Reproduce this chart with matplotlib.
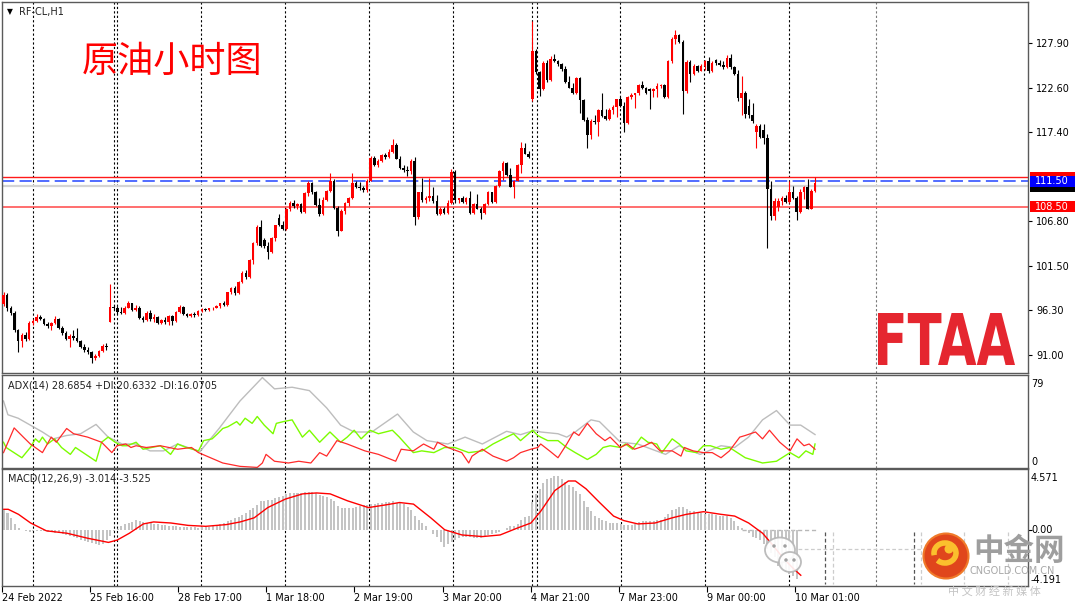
import numpy as np
import matplotlib
matplotlib.use('Agg')
import matplotlib.pyplot as plt
from matplotlib.patches import Rectangle, Ellipse, PathPatch, Arc
from matplotlib.lines import Line2D
from matplotlib.textpath import TextPath
from matplotlib.font_manager import FontProperties
from matplotlib.transforms import Affine2D, IdentityTransform, blended_transform_factory

plt.rcParams['font.family'] = ['DejaVu Sans', 'Noto Sans CJK SC']
plt.rcParams['font.size'] = 7

# ---------------- data (RF-CL, H1) ----------------
opens = [
    97.0, 98.1, 96.5, 96.0, 93.9, 92.7, 93.4, 92.9, 94.8, 95.0,
    95.5, 95.3, 94.7, 94.4, 94.8, 95.3, 94.2, 93.6, 92.9, 93.3,
    93.0, 92.6, 92.0, 91.6, 91.3, 90.6, 90.9, 91.5, 92.1, 94.9,
    96.7, 96.6, 96.1, 96.0, 96.6, 97.1, 96.3, 96.6, 95.4, 95.1,
    96.0, 95.2, 95.5, 94.8, 95.1, 94.9, 95.6, 95.0, 96.1, 96.7,
    95.8, 95.6, 95.9, 95.7, 96.2, 96.4, 96.3, 96.5, 96.6, 96.8,
    97.1, 96.9, 98.4, 98.9, 98.3, 99.6, 100.7, 100.2, 102.2, 104.2,
    106.1, 104.6, 103.9, 103.2, 104.8, 107.2, 106.3, 105.9, 108.3, 109.0,
    108.6, 108.8, 107.9, 110.1, 111.3, 110.2, 108.7, 107.6, 109.3, 110.4,
    111.6, 108.4, 105.7, 108.0, 109.0, 109.5, 111.3, 110.9, 110.7, 110.5,
    111.6, 114.3, 113.5, 113.9, 114.6, 114.4, 115.0, 115.8, 114.2, 113.1,
    112.8, 112.7, 113.9, 107.3, 110.2, 109.3, 109.6, 109.8, 109.2, 107.6,
    108.3, 107.8, 108.9, 112.6, 109.3, 109.5, 109.1, 109.5, 107.8, 108.8,
    108.3, 107.8, 108.8, 110.2, 109.1, 111.0, 112.7, 113.7, 112.3, 110.9,
    111.6, 113.4, 115.5, 114.8, 121.2, 126.9, 124.4, 122.4, 125.5, 123.5,
    126.0, 125.7, 125.4, 124.8, 123.2, 122.6, 121.9, 123.7, 121.1, 118.8,
    117.0, 118.7, 118.5, 119.9, 119.2, 118.9, 119.9, 120.3, 121.2, 120.4,
    118.4, 121.5, 121.7, 121.9, 122.9, 122.5, 122.4, 122.2, 122.4, 122.8,
    122.9, 121.5, 125.7, 128.3, 128.8, 128.0, 122.2, 125.6, 124.2, 125.2,
    124.6, 125.2, 125.7, 124.5, 125.8, 125.5, 125.3, 125.0, 126.1, 125.0,
    124.2, 121.4, 122.0, 120.4, 119.3, 117.4, 118.1, 117.6, 116.6, 110.6,
    107.4, 108.5, 109.2, 109.5, 109.1, 110.3, 109.6, 107.9, 110.2, 110.8,
    108.3, 110.4,
]
highs = [
    98.4, 98.3, 96.8, 96.2, 94.1, 93.6, 93.7, 95.0, 95.2, 95.8,
    95.7, 95.4, 94.9, 94.9, 95.6, 95.4, 94.4, 93.8, 93.5, 93.9,
    94.2, 92.8, 92.3, 91.9, 91.5, 91.1, 91.6, 92.3, 92.4, 99.4,
    96.9, 96.8, 96.7, 96.8, 97.4, 97.2, 96.9, 96.8, 95.6, 96.2,
    96.3, 95.8, 95.6, 95.3, 95.5, 95.7, 95.7, 96.2, 96.9, 96.8,
    96.0, 96.0, 96.1, 96.3, 96.5, 96.5, 96.6, 96.7, 96.9, 97.2,
    97.4, 98.5, 99.0, 99.1, 99.7, 100.9, 101.1, 102.3, 104.4, 106.3,
    107.0, 104.8, 104.4, 104.9, 106.4, 107.6, 106.8, 108.4, 109.2, 109.3,
    108.9, 108.9, 110.2, 111.6, 111.4, 110.4, 109.6, 109.7, 110.5, 112.5,
    111.8, 108.6, 108.2, 109.1, 109.7, 112.5, 111.6, 111.4, 111.0, 111.8,
    114.5, 114.5, 114.1, 114.8, 114.9, 115.3, 116.5, 116.0, 114.5, 113.4,
    113.3, 114.1, 114.4, 110.3, 111.9, 109.8, 111.9, 110.8, 109.9, 108.5,
    108.5, 109.3, 113.0, 112.8, 109.6, 109.8, 109.7, 110.4, 109.0, 110.0,
    108.5, 108.9, 110.4, 110.3, 111.1, 112.8, 113.9, 113.8, 113.1, 111.7,
    113.6, 116.2, 116.0, 115.1, 130.5, 127.1, 124.6, 125.7, 125.8, 126.3,
    126.6, 125.9, 125.5, 125.1, 124.0, 123.1, 123.9, 123.9, 121.3, 119.1,
    118.9, 119.3, 120.1, 121.9, 120.1, 120.2, 120.5, 121.3, 121.5, 120.9,
    121.6, 121.9, 122.0, 123.0, 123.4, 122.7, 122.5, 122.6, 123.1, 123.0,
    123.0, 125.9, 128.6, 129.4, 128.9, 128.2, 125.9, 125.9, 125.4, 125.3,
    125.4, 125.8, 126.2, 125.7, 126.0, 125.8, 125.7, 126.4, 126.6, 125.2,
    124.7, 124.0, 122.2, 121.3, 120.8, 118.3, 118.3, 118.3, 117.1, 111.6,
    109.6, 109.6, 109.8, 109.9, 111.6, 111.0, 109.8, 110.6, 111.0, 111.8,
    110.6, 112.0,
]
lows = [
    96.8, 96.2, 95.7, 93.7, 91.3, 92.0, 92.6, 92.8, 94.5, 94.9,
    95.1, 94.5, 94.2, 94.0, 94.7, 94.1, 93.4, 92.8, 92.0, 92.8,
    92.5, 91.8, 91.4, 91.1, 90.0, 90.4, 90.8, 91.4, 91.6, 94.9,
    96.3, 95.8, 95.9, 95.9, 96.5, 96.2, 96.2, 95.3, 94.9, 95.0,
    95.0, 94.9, 94.7, 94.7, 94.7, 94.6, 94.5, 94.9, 96.0, 95.7,
    95.5, 95.5, 95.5, 95.6, 96.1, 96.2, 96.2, 96.3, 96.5, 96.6,
    96.8, 96.8, 98.2, 98.1, 98.2, 99.5, 100.0, 100.1, 101.7, 104.0,
    103.8, 103.6, 102.4, 103.1, 104.5, 106.2, 105.8, 105.8, 108.0, 108.4,
    108.2, 107.8, 107.8, 109.8, 110.0, 108.6, 107.4, 107.5, 109.2, 110.3,
    108.3, 105.1, 105.6, 107.6, 108.6, 109.4, 110.7, 110.5, 110.3, 110.3,
    111.5, 113.3, 113.2, 113.8, 114.2, 114.3, 114.9, 114.1, 113.0, 112.6,
    112.2, 112.4, 106.3, 107.1, 109.1, 109.0, 109.2, 109.0, 107.5, 107.5,
    107.7, 107.7, 108.8, 109.0, 109.0, 109.0, 108.8, 107.7, 107.7, 108.2,
    107.1, 107.7, 108.7, 109.0, 109.0, 110.9, 111.7, 112.2, 110.8, 109.6,
    111.5, 112.5, 114.7, 114.3, 121.0, 124.2, 121.6, 122.3, 123.2, 123.4,
    125.6, 125.2, 124.6, 123.1, 122.5, 121.8, 121.8, 119.6, 118.6, 115.5,
    116.5, 118.3, 116.9, 119.1, 118.8, 118.8, 119.5, 119.1, 120.3, 117.4,
    118.3, 121.2, 120.2, 121.7, 122.4, 121.8, 120.1, 121.5, 121.5, 122.6,
    121.4, 121.4, 125.5, 127.8, 127.9, 119.5, 121.9, 123.2, 124.1, 124.4,
    124.5, 124.7, 124.3, 124.4, 125.3, 125.1, 124.8, 124.9, 124.8, 124.1,
    121.0, 119.3, 119.0, 119.0, 118.4, 115.5, 116.6, 115.9, 103.6, 106.9,
    107.0, 108.0, 108.7, 108.9, 109.0, 109.4, 106.9, 107.8, 109.4, 108.2,
    108.2, 110.3,
]
closes = [
    98.1, 96.5, 96.0, 93.9, 92.7, 93.4, 92.9, 94.8, 95.0, 95.5,
    95.3, 94.7, 94.4, 94.8, 95.3, 94.2, 93.6, 92.9, 93.3, 93.0,
    92.6, 92.0, 91.6, 91.3, 90.6, 90.9, 91.5, 92.1, 91.9, 96.7,
    96.6, 96.1, 96.0, 96.6, 97.1, 96.3, 96.6, 95.4, 95.1, 96.0,
    95.2, 95.5, 94.8, 95.1, 94.9, 95.6, 95.0, 96.1, 96.7, 95.8,
    95.6, 95.9, 95.7, 96.2, 96.4, 96.3, 96.5, 96.6, 96.8, 97.1,
    96.9, 98.4, 98.9, 98.3, 99.6, 100.7, 100.2, 102.2, 104.2, 106.1,
    103.9, 103.9, 103.2, 104.8, 106.3, 106.3, 105.9, 108.3, 109.0, 108.6,
    108.8, 107.9, 110.1, 111.3, 110.2, 108.7, 107.6, 109.3, 110.4, 111.6,
    108.4, 105.7, 108.0, 109.0, 109.5, 111.3, 110.9, 110.7, 110.5, 111.6,
    114.3, 113.5, 113.9, 114.6, 114.4, 115.0, 115.8, 114.2, 113.1, 112.8,
    112.7, 113.9, 107.3, 110.2, 109.3, 109.6, 109.8, 109.2, 107.6, 108.3,
    107.8, 108.9, 112.6, 109.3, 109.5, 109.1, 109.5, 107.8, 108.8, 108.3,
    107.8, 108.8, 110.2, 109.1, 111.0, 112.7, 113.7, 112.3, 110.9, 111.6,
    113.4, 115.5, 114.8, 114.4, 126.9, 124.4, 122.4, 125.5, 123.5, 126.0,
    125.7, 125.4, 124.8, 123.2, 122.6, 121.9, 123.7, 121.1, 118.8, 117.0,
    118.7, 118.5, 119.9, 119.2, 118.9, 119.9, 120.3, 121.2, 120.4, 118.4,
    121.5, 121.7, 121.9, 122.9, 122.5, 121.9, 122.2, 122.4, 122.8, 122.9,
    121.5, 125.7, 128.3, 128.8, 128.0, 122.2, 125.6, 124.2, 125.2, 124.6,
    125.2, 125.7, 124.5, 125.5, 125.5, 125.3, 125.0, 126.1, 125.0, 124.2,
    121.4, 122.0, 119.5, 119.3, 118.7, 118.1, 116.8, 116.6, 110.6, 107.4,
    109.2, 109.2, 109.5, 109.1, 110.3, 109.6, 107.9, 110.2, 110.8, 108.3,
    110.4, 111.3,
]

price_ticks = [127.90, 122.60, 117.40, 106.80, 101.50, 96.30, 91.00]
level_red_top = 112.00
level_blue = 111.50
level_bid = 110.95
level_red_low = 108.50

sep_bars = [7.9, 30.0, 30.9, 53.7, 76.6, 99.5, 122.4, 144.0, 145.3, 168.0, 190.9, 213.8, 237.5]
date_bars = [0, 24, 48, 72, 96, 120, 144, 168, 192, 216]
date_labels = ['24 Feb 2022', '25 Feb 16:00', '28 Feb 17:00', '1 Mar 18:00', '2 Mar 19:00',
               '3 Mar 20:00', '4 Mar 21:00', '7 Mar 23:00', '9 Mar 00:00', '10 Mar 01:00']

# ADX(14)
adx_x = [0, 1.2, 4.0, 7.3, 10.6, 13.5, 17.2, 21.0, 25.2, 28.5, 32.3, 36.1, 39.9, 43.6, 47.4,
         50.2, 53.5, 58.7, 64.4, 70.5, 73.8, 78.6, 83.3, 88.0, 91.8, 95.5, 100.3, 107.3, 111.6,
         115.3, 121.0, 125.7, 130.4, 137.0, 140.8, 144.6, 146.3, 151.0, 153.4, 155.7, 160.0,
         162.3, 168.0, 172.7, 180.3, 184.0, 189.7, 195.4, 199.1, 202.9, 206.7, 210.5, 214.2,
         217.1, 221.0]
adx_v = [57.5, 45.7, 42.7, 36.8, 30.9, 25.0, 27.9, 29.4, 37.4, 26.5, 20.6, 20.6, 14.7, 14.7, 20.6,
         17.6, 14.1, 33.9, 57.5, 77.6, 67.9, 69.3, 66.4, 51.6, 36.8, 30.9, 30.9, 46.3, 30.9,
         23.5, 20.6, 26.5, 20.6, 31.5, 28.6, 32.4, 30.9, 29.4, 26.5, 30.9, 41.3,
         39.8, 22.1, 20.6, 11.7, 19.1, 11.7, 19.1, 17.6, 26.5, 41.3, 49.3, 36.8,
         36.8, 28.7]
# +DI
pdi_x = [0, 0.7, 5.0, 7.3, 8.7, 9.7, 10.6, 12.0, 13.9, 15.8, 18.2, 19.6, 25.2, 26.7, 28.5,
         30.4, 32.3, 33.7, 36.1, 38.0, 42.7, 45.5, 47.4, 49.8, 53.1, 54.5, 56.8, 58.3, 59.7,
         61.1, 63.5, 64.4, 65.8, 67.7, 69.1, 71.0, 73.4, 74.3, 76.2, 78.6, 81.4, 83.3, 86.1,
         88.9, 91.8, 93.6, 95.5, 97.4, 99.8, 102.1, 105.9, 107.8, 111.6, 113.9, 117.2, 120.1,
         122.9, 126.7, 130.4, 133.3, 137.0, 138.9, 140.8, 144.1, 145.5, 146.3, 148.2, 151.0,
         153.4, 155.7, 159.0, 161.4, 163.3, 165.2, 168.0, 169.4, 171.3, 173.7, 175.5, 177.9,
         179.3, 182.1, 184.0, 185.9, 188.8, 190.6, 192.5, 195.4, 197.7, 202.0, 206.7, 210.5,
         214.2, 216.6, 218.5, 220.4, 221.0]
pdi_v = [22.1, 17.6, 8.8, 17.6, 25.0, 22.1, 26.5, 20.6, 25.0, 17.6, 11.7, 17.6, 5.8, 22.1, 26.5,
         22.1, 19.1, 19.1, 22.1, 16.1, 19.1, 11.7, 20.6, 17.6, 14.7, 23.5, 25.0, 29.4, 33.9,
         35.4, 39.8, 36.8, 42.7, 38.3, 44.2, 36.8, 29.4, 38.3, 39.8, 41.3, 26.5, 32.4, 22.1,
         30.9, 22.1, 26.5, 32.4, 25.0, 32.4, 29.4, 32.4, 26.5, 13.2, 14.7, 13.2, 17.6,
         17.6, 13.2, 14.7, 20.6, 26.5, 29.4, 23.5, 32.4, 27.9, 26.5, 23.5, 23.5,
         17.6, 13.2, 7.3, 11.7, 17.6, 19.1, 17.6, 20.6, 16.1, 26.5, 22.1, 20.6,
         13.2, 25.0, 20.6, 14.7, 13.2, 19.1, 19.1, 16.1, 17.6, 8.8, 4.3, 5.8,
         13.2, 8.8, 14.7, 11.7, 20.6]
# -DI
mdi_x = [0, 2.9, 5.4, 7.3, 10.6, 13.0, 14.4, 17.2, 19.1, 22.9, 26.7, 29.5, 30.9, 33.3, 34.7,
         36.1, 38.9, 42.7, 47.4, 51.2, 53.1, 59.7, 64.4, 69.1, 70.5, 71.5, 73.8, 77.6, 80.4,
         83.7, 86.1, 88.0, 90.8, 93.6, 98.4, 102.1, 106.8, 108.3, 111.6, 114.4, 117.2, 118.2,
         121.0, 124.8, 126.7, 127.6, 130.4, 133.3, 137.0, 138.9, 140.8, 143.6, 145.5, 146.3,
         148.7, 151.0, 153.4, 155.3, 156.7, 159.0, 161.4, 163.8, 165.2, 168.0, 169.9, 171.8,
         174.6, 176.5, 178.8, 182.1, 184.5, 185.4, 187.8, 190.6, 193.0, 195.4, 197.7, 200.5,
         202.0, 204.8, 206.7, 208.6, 211.4, 214.2, 216.1, 218.0, 219.4, 221.0]
mdi_v = [13.2, 34.4, 26.5, 20.6, 13.2, 26.5, 22.1, 33.9, 29.4, 26.5, 22.1, 13.2, 19.1, 20.6, 17.6,
         19.1, 17.6, 19.1, 16.1, 17.6, 13.2, 4.3, 1.4, 0.5, 4.3, 11.7, 5.8, 4.3, 5.8,
         4.3, 13.2, 10.2, 23.5, 20.6, 14.7, 11.7, 5.8, 16.1, 14.7, 20.6, 16.1, 22.1,
         17.6, 13.2, 4.3, 10.2, 16.1, 10.2, 5.8, 8.8, 13.2, 16.1, 17.6, 20.6,
         14.7, 8.8, 20.6, 30.9, 27.9, 38.3, 29.4, 23.5, 26.5, 17.6, 20.6, 16.1,
         19.1, 22.1, 14.7, 14.7, 10.2, 17.6, 14.7, 13.2, 13.2, 8.8, 14.7, 26.5,
         27.9, 30.9, 25.0, 32.4, 22.1, 14.7, 25.0, 19.1, 20.6, 16.1]

# MACD(12,26,9) main (histogram), one value per bar
macd_main = [
    1.54, 1.28, 0.90, 0.40, 0.13, 0.02, -0.10, -0.13, -0.12, -0.10,
    -0.11, -0.12, -0.13, -0.16, -0.22, -0.28, -0.33, -0.38, -0.45, -0.55,
    -0.65, -0.74, -0.82, -0.92, -1.03, -1.10, -1.15, -1.05, -0.80, -0.45,
    -0.10, 0.05, 0.26, 0.40, 0.51, 0.62, 0.72, 0.65, 0.55, 0.52,
    0.51, 0.46, 0.40, 0.35, 0.33, 0.30, 0.28, 0.26, 0.24, 0.22,
    0.20, 0.18, 0.18, 0.17, 0.18, 0.18, 0.22, 0.28, 0.33, 0.42,
    0.51, 0.65, 0.77, 0.88, 0.97, 1.12, 1.28, 1.48, 1.67, 1.90,
    2.13, 2.18, 2.22, 2.26, 2.36, 2.46, 2.56, 2.66, 2.77, 2.77,
    2.77, 2.80, 2.84, 2.87, 2.82, 2.77, 2.65, 2.55, 2.44, 2.30,
    2.18, 1.79, 1.67, 1.65, 1.63, 1.62, 1.70, 1.78, 1.87, 1.90,
    1.93, 1.97, 2.00, 2.04, 2.08, 2.11, 2.13, 2.05, 1.98, 1.92,
    1.70, 1.46, 1.03, 0.75, 0.51, 0.25, 0.00, -0.30, -0.51, -0.90,
    -1.28, -1.10, -0.90, -0.75, -0.62, -0.55, -0.51, -0.55, -0.60, -0.64,
    -0.64, -0.50, -0.40, -0.30, -0.26, -0.15, -0.05, 0.10, 0.26, 0.32,
    0.45, 0.75, 0.95, 1.05, 2.10, 2.69, 3.08, 3.50, 3.80, 3.92,
    4.03, 4.03, 3.85, 3.60, 3.40, 3.20, 2.95, 2.70, 2.18, 1.75,
    1.41, 1.03, 0.90, 0.75, 0.64, 0.51, 0.51, 0.51, 0.45, 0.38,
    0.33, 0.33, 0.45, 0.59, 0.64, 0.69, 0.69, 0.69, 0.72, 0.77,
    0.95, 1.15, 1.45, 1.60, 1.72, 1.72, 1.55, 1.41, 1.41, 1.30,
    1.23, 1.18, 1.15, 1.15, 1.12, 1.03, 1.03, 1.03, 0.85, 0.64,
    0.26, 0.10, 0.00, -0.26, -0.51, -0.62, -0.77, -1.10, -1.41, -1.75,
    -2.05, -2.69, -2.95, -3.20, -3.35, -3.46, -3.72,
]
sig_x = [0, 1.2, 4.0, 7.3, 11.6, 17.2, 22.9, 28.5, 30.9, 34.2, 38.0, 40.8, 45.5, 50.2, 55.0,
         60.6, 64.4, 68.2, 71.9, 76.7, 81.4, 85.2, 88.9, 93.6, 99.3, 104.0, 107.8, 111.6, 116.3,
         120.1, 124.8, 130.4, 135.2, 139.9, 143.6, 146.3, 150.1, 153.8, 155.7, 158.6, 162.3,
         166.1, 168.9, 172.7, 177.4, 182.1, 185.9, 190.6, 195.4, 199.1, 202.9, 206.7, 209.5,
         212.3, 215.2, 217.1]
sig_v = [1.54, 1.54, 1.16, 0.51, -0.08, -0.26, -0.64, -0.95, -0.77, -0.26, 0.44, 0.59, 0.51, 0.33, 0.26,
         0.39, 0.59, 0.90, 1.67, 2.31, 2.70, 2.77, 2.70, 2.18, 1.67, 1.87, 2.05, 1.93, 0.90,
         0.00, -0.39, -0.51, -0.39, 0.13, 0.51, 1.41, 2.95, 3.67, 3.67, 3.08, 2.05,
         1.03, 0.69, 0.44, 0.51, 0.90, 1.16, 1.36, 1.16, 1.03, 0.51, -0.26, -1.16,
         -2.13, -2.95, -3.42]

# ---------------- figure ----------------
W, H = 1080, 603
fig = plt.figure(figsize=(W / 100, H / 100), dpi=100)
fig.patch.set_facecolor('white')


def box(x0, y0, x1, y1):
    return [x0 / W, 1 - y1 / H, (x1 - x0) / W, (y1 - y0) / H]


def ftext(x, y, s, **kw):
    return fig.text(x / W, 1 - y / H, s, **kw)


def fline(xs, ys, **kw):
    fig.add_artist(Line2D([v / W for v in xs], [1 - v / H for v in ys],
                          transform=fig.transFigure, **kw))


ax_p = fig.add_axes(box(2, 2, 1028, 373))
ax_adx = fig.add_axes(box(2, 375, 1028, 468))
ax_macd = fig.add_axes(box(2, 469, 1028, 585.5))

frame = '#5a5a5a'
for ax in (ax_p, ax_adx, ax_macd):
    ax.set_xlim(-0.41, 279.0)
    for s in ax.spines.values():
        s.set_color(frame)
        s.set_linewidth(1.0)
    ax.tick_params(axis='x', bottom=False, labelbottom=False)
    ax.tick_params(axis='y', left=False, labelleft=False, right=False, labelright=False)
    for k, sx in enumerate(sep_bars):
        ax.axvline(sx, color='#777777' if k == len(sep_bars) - 1 else 'black',
                   lw=0.8, ls=(0, (2, 2)), zorder=0.5)

# ---- price panel ----
o = np.array(opens)
h = np.array(highs)
l = np.array(lows)
c = np.array(closes)
idx = np.arange(len(c))
cols = np.where(c >= o, '#ff0000', '#000000')

ax_p.set_ylim(88.87, 132.71)
ax_p.axhline(level_bid, color='#d4d4d4', lw=1.6, zorder=1)
ax_p.axhline(level_red_top, color='#ff1a1a', lw=1.0, zorder=1.2)
ax_p.axhline(level_blue, color='#2244ff', lw=1.1, ls=(0, (8, 3.5)), zorder=1.2)
ax_p.axhline(level_red_low, color='#ff5555', lw=1.2, zorder=1.2)

ax_p.vlines(idx, l, h, colors=cols, lw=0.8, zorder=3)
ax_p.bar(idx, np.maximum(np.abs(c - o), 0.08), bottom=np.minimum(o, c), width=0.7,
         color=cols, lw=0, zorder=3)

ax_p.yaxis.tick_right()
ax_p.set_yticks(price_ticks)
ax_p.set_yticklabels([f'{v:.2f}' for v in price_ticks])
ax_p.tick_params(axis='y', right=True, labelright=True, length=3, width=0.8, pad=3,
                 labelsize=7, colors='black')

blend = blended_transform_factory(fig.transFigure, ax_p.transData)


def price_tag(level, face, label, tcolor, z):
    ax_p.add_patch(Rectangle((1030 / W, level - 0.66), 45 / W, 1.32, transform=blend,
                             facecolor=face, edgecolor='none', clip_on=False, zorder=z))
    if label:
        ax_p.text(1052 / W, level, label, transform=blend, ha='center', va='center',
                  color=tcolor, fontsize=7, clip_on=False, zorder=z + 0.1)


# the 112.00 and bid tags sit almost fully under the blue 111.50 tag
price_tag(level_red_top, '#ff0000', None, 'black', 10)
price_tag(level_bid, '#000000', None, 'white', 11)
price_tag(level_blue, '#0000ff', f'{level_blue:.2f}', 'white', 12)
price_tag(level_red_low, '#ff0000', f'{level_red_low:.2f}', 'white', 10)

ftext(6.5, 12, '\u25bc', fontsize=5.5, va='center', color='black')
ftext(19.5, 12, 'RF-CL,H1', fontsize=7, va='center', color='#222222')
ftext(172, 62, '原油小时图', color='#ff0000', fontsize=26, ha='center', va='center',
      family=['Noto Sans CJK SC', 'DejaVu Sans'])

# FTAA logo
fp = FontProperties(family='DejaVu Sans', weight='bold')
tp = TextPath((0, 0), 'FTAA', size=100, prop=fp)
bb = tp.get_extents()
tr = (Affine2D().translate(-bb.x0, -bb.y0)
      .scale((1015 - 878) / bb.width, (365 - 313) / bb.height)
      .translate(878, H - 365))
fig.add_artist(PathPatch(tr.transform_path(tp), facecolor='#e5262f', edgecolor='none',
                         transform=IdentityTransform(), zorder=5))

# ---- ADX panel ----
ax_adx.set_ylim(0, 79.8)
ax_adx.plot(adx_x, adx_v, color='#bdbdbd', lw=1.0, zorder=2)
ax_adx.plot(pdi_x, pdi_v, color='#7cfc00', lw=1.0, zorder=2.2)
ax_adx.plot(mdi_x, mdi_v, color='#ff2a2a', lw=0.9, zorder=2.4)
ftext(7.5, 385.5, 'ADX(14) 28.6854 +DI:20.6332 -DI:16.0705', fontsize=7, va='center', color='#222222')
ftext(1031, 384, '79', fontsize=7, va='center')
ftext(1031, 462, '0', fontsize=7, va='center')

# ---- MACD panel ----
ax_macd.set_ylim(-4.191, 4.571)
ax_macd.bar(np.arange(len(macd_main)), macd_main, width=0.55, color='#c4c4c4', lw=0, zorder=2)
ax_macd.plot(sig_x, sig_v, color='#ff0000', lw=1.0, zorder=3)
ax_macd.hlines(0, 201, 221.5, colors='#b8b8b8', linestyles=(0, (3, 2)), lw=1.0, zorder=1.5)
ax_macd.yaxis.tick_right()
ax_macd.set_yticks([0])
ax_macd.tick_params(axis='y', right=True, labelright=False, length=3, width=0.8, colors='black')
ax_macd.set_xticks(np.array(date_bars) - 0.5)
ax_macd.set_xticklabels(date_labels, ha='left')
ax_macd.tick_params(axis='x', bottom=True, labelbottom=True, length=4, width=0.8, pad=1.5,
                    labelsize=7, colors='black')
ftext(7.5, 478.8, 'MACD(12,26,9) -3.014 -3.525', fontsize=7, va='center', color='#222222')
ftext(1031, 478, '4.571', fontsize=7, va='center')
ftext(1031, 529.7, '0.00', fontsize=7, va='center')
ftext(1031, 580, '-4.191', fontsize=7, va='center')

# ---- watermark overlays ----
for xv, col in [(825, '#555555'), (832.7, '#cccccc'), (913.6, '#555555'),
                (920.5, '#cccccc'), (963.5, '#cccccc'), (1008, '#cccccc')]:
    fline([xv, xv], [532, 584], color=col, lw=0.9, ls=(0, (3, 2)), zorder=6)
fline([798, 963], [548.7, 548.7], color='#cccccc', lw=0.9, ls=(0, (3, 2)), zorder=6)

for (cx, cy, ew, eh) in [(780, 550, 30, 25), (790, 562, 22, 20)]:
    fig.add_artist(Ellipse((cx / W, 1 - cy / H), ew / W, eh / H, transform=fig.transFigure,
                           facecolor='white', edgecolor='#b5b5b5', lw=1.3, alpha=0.9, zorder=7))
for (cx, cy) in [(774, 546), (785, 546), (786, 560), (794, 560)]:
    fig.add_artist(Ellipse((cx / W, 1 - cy / H), 3.5 / W, 3.5 / H, transform=fig.transFigure,
                           facecolor='#a0a0a0', edgecolor='none', zorder=7.5))

fig.add_artist(Ellipse((946 / W, 1 - 556 / H), 45 / W, 45 / H, transform=fig.transFigure,
                       facecolor='#e0461c', edgecolor='#f07a2a', lw=1.5, zorder=7))
fig.add_artist(Arc((945 / W, 1 - 553 / H), 22 / W, 20 / H, theta1=-120, theta2=200,
                   transform=fig.transFigure, color='#fbc02d', lw=4, zorder=7.5))
fig.add_artist(Ellipse((949 / W, 1 - 549 / H), 9 / W, 9 / H, transform=fig.transFigure,
                       facecolor='#fbc02d', edgecolor='none', zorder=7.6))
ftext(1019, 551, '中金网', fontsize=22, fontweight='bold', ha='center', va='center',
      color='#9e9e9e', family=['Noto Sans CJK SC', 'DejaVu Sans'], zorder=8)
ftext(1012, 571, 'CNGOLD.COM.CN', fontsize=7, ha='center', va='center', color='#a8a8a8', zorder=8)
ftext(994, 591, '中 文 财 经 新 媒 体', fontsize=8, ha='center', va='center', color='#c4c4c4',
      family=['Noto Sans CJK SC', 'DejaVu Sans'], zorder=8)

fig.savefig('out.png', dpi=100, facecolor='white')
